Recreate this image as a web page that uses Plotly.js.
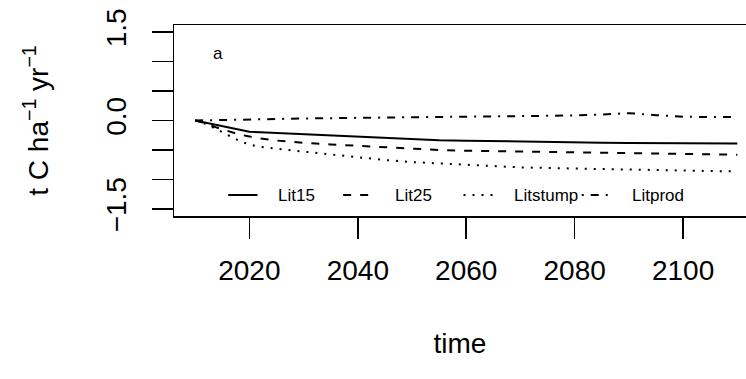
<!DOCTYPE html>
<html>
<head>
<meta charset="utf-8">
<script src="https://cdn.plot.ly/plotly-3.0.1.min.js"></script>
<style>html,body{margin:0;padding:0;background:#fff;}#chart{width:746px;height:379px;}</style>
</head>
<body>
<div id="chart"></div>
<script>
const years = [2010, 2012, 2014, 2016, 2018, 2020, 2022, 2025, 2030, 2035, 2040, 2045, 2050, 2055, 2060, 2070, 2080, 2085, 2090, 2095, 2100, 2105, 2110];
const lit15 = [0, -0.04, -0.08, -0.12, -0.16, -0.19, -0.2, -0.212, -0.235, -0.26, -0.28, -0.3, -0.32, -0.335, -0.343, -0.36, -0.372, -0.376, -0.38, -0.383, -0.386, -0.388, -0.39];
const lit25 = [0, -0.05, -0.12, -0.18, -0.235, -0.27, -0.305, -0.34, -0.38, -0.405, -0.43, -0.455, -0.48, -0.5, -0.512, -0.528, -0.542, -0.548, -0.555, -0.562, -0.568, -0.574, -0.58];
const litstump = [0, -0.06, -0.15, -0.24, -0.34, -0.41, -0.445, -0.48, -0.53, -0.575, -0.625, -0.67, -0.705, -0.73, -0.755, -0.795, -0.815, -0.825, -0.835, -0.842, -0.85, -0.858, -0.865];
const litprod = [0, 0.005, 0.008, 0.01, 0.012, 0.015, 0.02, 0.025, 0.035, 0.04, 0.045, 0.048, 0.05, 0.055, 0.06, 0.07, 0.085, 0.1, 0.125, 0.09, 0.065, 0.058, 0.058];

const seriesNames = ['Lit15', 'Lit25', 'Litstump', 'Litprod'];
const seriesData = [lit15, lit25, litstump, litprod];
const dashes = ['solid', '8px,9px', '2px,7px', '8px,7px,2px,7px'];
const legendDashes = ['solid', '8px,9px', '2px,7px', '2px,7px,8px,7px'];

const xTicks = [2020, 2040, 2060, 2080, 2100];
const yTickVals = [-1.5, 0, 1.5];
const yTickText = ['\u22121.5', '0.0', '1.5'];

const FONT = 'Liberation Sans, Arial, Helvetica, sans-serif';
const AX = 28;

const traces = seriesData.map((ys, i) => ({
  x: years, y: ys, type: 'scatter', mode: 'lines', name: seriesNames[i],
  line: {color: '#000', width: 2, dash: dashes[i]}, showlegend: false, hoverinfo: 'skip'
}));

// manual horizontal legend (R style) inside the box
const legY = -1.264;
const legSymStart = [2016.1, 2037.3, 2059.5, 2081.3];
const symLen = 5.4;
const legTextStart = [2025.0, 2046.5, 2068.4, 2090.2];
const shapes = [];
const annotations = [];
seriesNames.forEach((nm, i) => {
  shapes.push({type: 'line', xref: 'x', yref: 'y', x0: legSymStart[i], x1: legSymStart[i] + symLen, y0: legY, y1: legY,
    line: {color: '#000', width: 2, dash: legendDashes[i]}});
  annotations.push({xref: 'x', yref: 'y', x: legTextStart[i], y: legY, text: nm, showarrow: false,
    xanchor: 'left', yanchor: 'middle', font: {family: FONT, size: 17, color: '#000'}});
});
annotations.push({xref: 'x', yref: 'y', x: 2014.3, y: 1.13, text: 'a', showarrow: false,
  xanchor: 'center', yanchor: 'middle', font: {family: FONT, size: 17, color: '#000'}});

const layout = {
  width: 746, height: 379,
  margin: {l: 174, r: 0, t: 25, b: 163},
  paper_bgcolor: '#fff', plot_bgcolor: '#fff',
  font: {family: FONT, size: AX, color: '#000'},
  showlegend: false,
  xaxis: {
    range: [2006.1, 2111.6], tickvals: xTicks, ticktext: xTicks.map(String),
    ticks: 'outside', ticklen: 21, tickwidth: 1.5, tickcolor: '#000',
    showline: true, linecolor: '#000', linewidth: 1.5, mirror: true,
    showgrid: false, zeroline: false, ticklabelstandoff: 8,
    tickfont: {family: FONT, size: AX, color: '#000'},
    title: {text: 'time', font: {family: FONT, size: AX, color: '#000'}, standoff: 48}
  },
  yaxis: {
    range: [-1.62, 1.62], tickvals: yTickVals, ticktext: yTickText, tickangle: -90,
    ticks: 'outside', ticklen: 21, tickwidth: 1.5, tickcolor: '#000',
    minor: {tick0: 0, dtick: 0.5, ticks: 'outside', ticklen: 21, tickwidth: 1.5, tickcolor: '#000', showgrid: false},
    showline: true, linecolor: '#000', linewidth: 1.5, mirror: false,
    showgrid: false, zeroline: false, ticklabelstandoff: 14,
    tickfont: {family: FONT, size: AX, color: '#000'},
    title: {text: 't C ha<sup>\u22121</sup> yr<sup>\u22121</sup>', font: {family: FONT, size: AX, color: '#000'}, standoff: 44}
  },
  shapes: shapes,
  annotations: annotations
};

Plotly.newPlot('chart', traces, layout, {staticPlot: true, displayModeBar: false});
</script>
</body>
</html>
